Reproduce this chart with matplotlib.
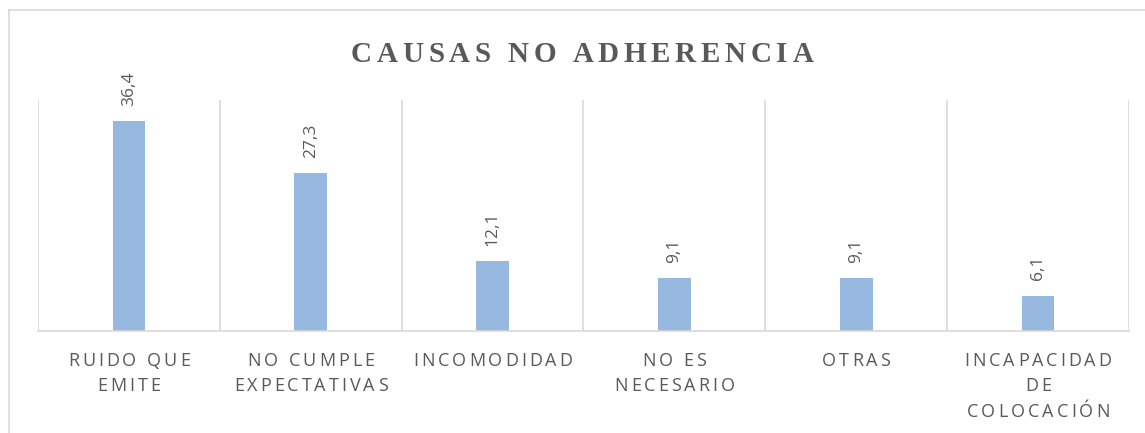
#!/usr/bin/env python3
"""Causas de no adherencia - bar chart"""

import matplotlib
matplotlib.use('Agg')
import matplotlib.pyplot as plt
from matplotlib.lines import Line2D

categories = [
    ['RUIDO QUE', 'EMITE'],
    ['NO CUMPLE', 'EXPECTATIVAS'],
    ['INCOMODIDAD'],
    ['NO ES', 'NECESARIO'],
    ['OTRAS'],
    ['INCAPACIDAD', 'DE', 'COLOCACIÓN'],
]
values = [36.4, 27.3, 12.1, 9.1, 9.1, 6.1]
value_labels = ['36,4', '27,3', '12,1', '9,1', '9,1', '6,1']
title = 'CAUSAS NO ADHERENCIA'

W, H = 1145, 433
GREY = '#595959'
LIGHT = '#d9d9d9'
BAR = '#97b9e0'


def advance(fig, renderer, s, **kw):
    """Advance width of s in pixels (trailing spaces included)."""
    t = fig.text(0, 0, s + 'I', **kw)
    w1 = t.get_window_extent(renderer).width
    t.set_text('I')
    w0 = t.get_window_extent(renderer).width
    t.remove()
    return w1 - w0


def spaced_text(fig, renderer, s, cx, y, track, **kw):
    """Draw text centred at cx (pixels) with extra letter spacing."""
    total = advance(fig, renderer, s, **kw) + (len(s) - 1) * track
    x0 = cx - total / 2
    for i, ch in enumerate(s):
        if ch == ' ':
            continue
        x = x0 + advance(fig, renderer, s[:i], **kw) + i * track
        fig.text(x / W, y / H, ch, ha='left', va='baseline', **kw)


fig = plt.figure(figsize=(W / 100, H / 100), dpi=100)
ax = fig.add_axes([38 / W, 1 - 331 / H, (1129 - 38) / W, (331 - 100) / H])

x = list(range(len(values)))
ax.bar(x, values, width=0.18, color=BAR, zorder=2)
ax.set_xlim(-0.5, len(values) - 0.5)
ax.set_ylim(0, 40)

for b in [i - 0.5 for i in range(len(values) + 1)]:
    ax.axvline(b, color=LIGHT, lw=1.2, zorder=1)

for s in ['top', 'right', 'left']:
    ax.spines[s].set_visible(False)
ax.spines['bottom'].set_color(LIGHT)
ax.spines['bottom'].set_linewidth(1.2)
ax.set_xticks([])
ax.set_yticks([])

for i, (v, lab) in enumerate(zip(values, value_labels)):
    ax.annotate(lab, xy=(i, v), xytext=(0, 11), textcoords='offset points',
                ha='center', va='bottom', rotation=90,
                fontsize=12.5, color=GREY, family='Open Sans')

renderer = fig.canvas.get_renderer()

# category labels with letter spacing
tick_kw = dict(fontsize=13, color=GREY, family='Open Sans')
axis_y = ax.transData.transform((0, 0))[1]
for i, lines in enumerate(categories):
    cx = ax.transData.transform((i, 0))[0]
    for j, line in enumerate(lines):
        base = axis_y - 35 - j * 25.3
        spaced_text(fig, renderer, line, cx, base, 3.0, **tick_kw)

# title
spaced_text(fig, renderer, title, 582, H - 62, 4.8,
            fontsize=21, fontweight='bold', color=GREY,
            family='Liberation Serif')

# outer chart frame
fig.add_artist(Line2D([9 / W, 1], [1 - 10 / H, 1 - 10 / H],
                      color=LIGHT, lw=1.2, transform=fig.transFigure))
fig.add_artist(Line2D([9 / W, 9 / W], [0, 1 - 10 / H],
                      color=LIGHT, lw=1.2, transform=fig.transFigure))

fig.savefig('out.png', dpi=100)
